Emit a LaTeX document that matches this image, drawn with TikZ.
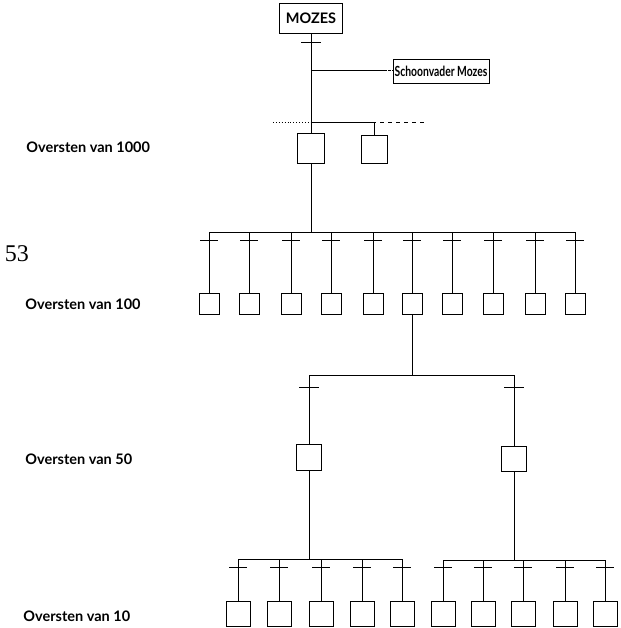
\documentclass[tikz,border=0pt]{standalone}
\usepackage{fontspec}
\setmainfont{Lato}
\newfontfamily\pagenumfont{Liberation Serif}
\begin{document}
\begin{tikzpicture}[x=1pt,y=-1pt,
  line width=0.8pt,
  box/.style={draw, line width=0.8pt, inner sep=0pt, minimum width=20pt, minimum height=21pt},
  namebox/.style={draw, line width=0.8pt, inner sep=0pt, font=\bfseries\fontsize{14.5}{14.5}\selectfont},
  lbl/.style={anchor=west, inner sep=0pt, font=\bfseries\fontsize{14.5}{14.5}\selectfont},
  bar/.style={line width=0.8pt}]
\useasboundingbox (0,0) rectangle (620,628);

% top
\node[namebox, minimum width=63pt, minimum height=30pt] (mozes) at (311,18) {MOZES};
\node[namebox, minimum width=96pt, minimum height=24pt, font=\bfseries\fontsize{14}{14}\selectfont] (schoon) at (441,71) {\scalebox{0.74}[1]{Schoonvader Mozes}};
\node[box, minimum width=27pt, minimum height=30pt] (k1) at (311,148) {};
\node[box, minimum width=26pt, minimum height=28pt] (k2) at (374,149) {};
\coordinate (dl) at (273,122);
\coordinate (dr) at (425,122);
\coordinate (sj) at (384,70);

\draw (mozes.south) -- (k1.north);
\draw[bar] (mozes.south) ++(0,9) ++(-10,0) -- ++(20,0);
\draw (mozes.south |- sj) -- (sj);
\draw[dash pattern=on 2.5pt off 1.5pt] (sj) -- (schoon.west |- sj);
\draw (mozes.south |- dl) -| (k2.north);
\draw[dotted, line width=0.9pt] (dl) -- (k1.north |- dl);
\draw[dash pattern=on 4pt off 4pt, dash phase=-6pt] (k2.north |- dl) -- (dr);

% level 100
\coordinate (bus100) at (311,232);
\coordinate (t100) at (0,240);
\foreach \x [count=\i] in {209,249,291,331,373,412,452,493,535,575}
  \node[box] (h\i) at (\x,303.5) {};
\draw (k1.south) -- (bus100);
\draw (h1.north |- bus100) -- (h10.north |- bus100);
\foreach \i in {1,...,10}{
  \draw (h\i.north) -- (h\i.north |- bus100);
  \draw[bar] (h\i.north |- t100) ++(-9,0) -- ++(18,0);
}

% level 50
\coordinate (bus50) at (0,375);
\coordinate (t50) at (0,387);
\node[box, minimum width=25pt, minimum height=26pt] (f1) at (309,457) {};
\node[box, minimum width=25pt, minimum height=25pt] (f2) at (514,458.5) {};
\draw (h6.south) -- (h6.south |- bus50);
\draw (f1.north |- bus50) -- (f2.north |- bus50);
\foreach \n in {f1,f2}{
  \draw (\n.north) -- (\n.north |- bus50);
  \draw[bar] (\n.north |- t50) ++(-10,0) -- ++(20,0);
}

% level 10
\coordinate (busL) at (0,559);
\coordinate (busR) at (0,560);
\coordinate (t10) at (0,567);
\foreach \x [count=\i] in {238,279,321,362,402}
  \node[box, minimum width=24pt, minimum height=25pt] (l\i) at (\x,613.5) {};
\foreach \x [count=\i] in {443,483,523,565,605}
  \node[box, minimum width=24pt, minimum height=25pt] (r\i) at (\x,613.5) {};
\draw (f1.south) -- (f1.south |- busL);
\draw (f2.south) -- (f2.south |- busR);
\draw (l1.north |- busL) -- (l5.north |- busL);
\draw (r1.north |- busR) -- (r5.north |- busR);
\foreach \i in {1,...,5}{
  \draw (l\i.north) -- (l\i.north |- busL);
  \draw (r\i.north) -- (r\i.north |- busR);
  \draw[bar] (l\i.north |- t10) ++(-9,0) -- ++(18,0);
  \draw[bar] (r\i.north |- t10) ++(-9,0) -- ++(18,0);
}

% labels
\node[lbl] (lab1000) at (26,147.5) {Oversten van 1000};
\node[lbl] (lab100) at (25,304) {Oversten van 100};
\node[lbl] (lab50) at (25,459.5) {Oversten van 50};
\node[lbl] (lab10) at (23,616.5) {Oversten van 10};
\node[inner sep=0pt, font=\pagenumfont\fontsize{24}{24}\selectfont] (pnum) at (17,253.5) {53};
\end{tikzpicture}
\end{document}
